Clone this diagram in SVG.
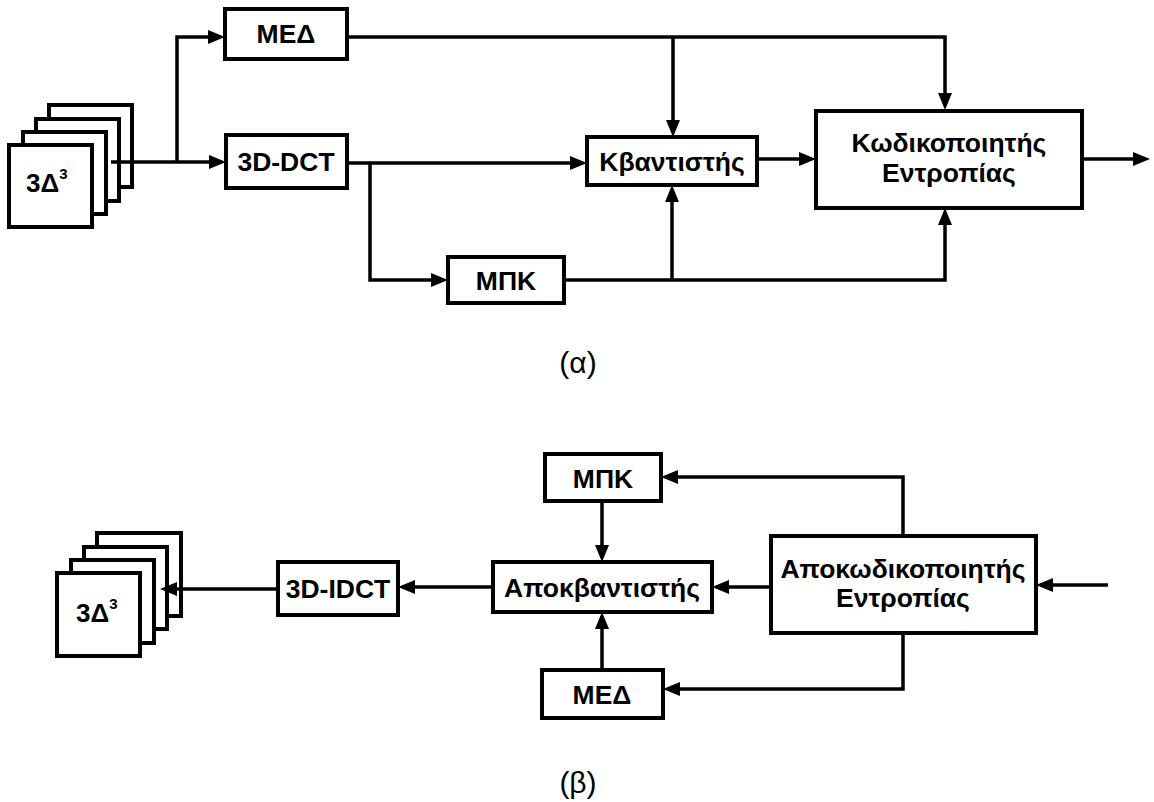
<svg xmlns="http://www.w3.org/2000/svg" width="1154" height="802" viewBox="0 0 1154 802">
  <style>
    .box { fill: #fff; stroke: #000; stroke-width: 4; }
    .frame { fill: #fff; stroke: #000; stroke-width: 4; }
    .arrow { fill: none; stroke: #000; stroke-width: 3.5; marker-end: url(#head); }
    .lbl { font-family: "Liberation Sans", Arial, sans-serif; font-weight: bold; font-size: 26.5px; text-anchor: middle; fill: #000; }
    .cap { font-family: "Liberation Sans", Arial, sans-serif; font-size: 30px; text-anchor: middle; fill: #000; }
    .vol { font-family: "Liberation Sans", Arial, sans-serif; font-weight: bold; font-size: 26px; fill: #000; }
  </style>
  <defs>
    <marker id="head" markerUnits="userSpaceOnUse" viewBox="0 0 17 14" refX="13" refY="7" markerWidth="17" markerHeight="14" orient="auto">
      <path d="M0,0 L17,7 L0,14 z" fill="#000"/>
    </marker>
  </defs>

  <rect width="1154" height="802" fill="#fff"/>

  <!-- (a) encoder -->
  <g id="volume-in">
    <rect class="frame" x="49" y="105" width="83" height="82"/>
    <rect class="frame" x="36" y="119" width="83" height="82"/>
    <rect class="frame" x="23" y="132" width="83" height="82"/>
    <rect class="frame" x="9" y="145" width="83" height="82"/>
    <text class="vol" x="26" y="192">3Δ<tspan font-size="15" dy="-13">3</tspan></text>
  </g>
  <g id="med-enc">
    <rect class="box" x="225" y="9" width="122" height="50"/>
    <text class="lbl" x="286" y="43">ΜΕΔ</text>
  </g>
  <g id="dct">
    <rect class="box" x="226" y="135" width="121" height="53"/>
    <text class="lbl" x="286" y="171">3D-DCT</text>
  </g>
  <g id="mpk-enc">
    <rect class="box" x="448" y="257" width="116" height="46"/>
    <text class="lbl" x="506" y="290">ΜΠΚ</text>
  </g>
  <g id="quantizer">
    <rect class="box" x="587" y="137" width="170" height="48"/>
    <text class="lbl" x="672" y="171">Κβαντιστής</text>
  </g>
  <g id="entropy-enc">
    <rect class="box" x="816" y="111" width="266" height="97"/>
    <text class="lbl" x="949" y="152">Κωδικοποιητής</text>
    <text class="lbl" x="949" y="182">Εντροπίας</text>
  </g>
  <text class="cap" x="578" y="373">(α)</text>

  <!-- (b) decoder -->
  <g id="volume-out">
    <rect class="frame" x="97" y="533" width="84" height="83"/>
    <rect class="frame" x="84" y="547" width="83" height="82"/>
    <rect class="frame" x="71" y="560" width="83" height="83"/>
    <rect class="frame" x="57" y="573" width="83" height="83"/>
    <text class="vol" x="76" y="622">3Δ<tspan font-size="15" dy="-13">3</tspan></text>
  </g>
  <g id="idct">
    <rect class="box" x="278" y="562" width="120" height="53"/>
    <text class="lbl" x="338" y="598">3D-IDCT</text>
  </g>
  <g id="dequantizer">
    <rect class="box" x="493" y="562" width="219" height="50"/>
    <text class="lbl" x="602" y="597">Αποκβαντιστής</text>
  </g>
  <g id="mpk-dec">
    <rect class="box" x="545" y="454" width="116" height="47"/>
    <text class="lbl" x="603" y="488">ΜΠΚ</text>
  </g>
  <g id="med-dec">
    <rect class="box" x="542" y="670" width="121" height="48"/>
    <text class="lbl" x="602" y="704">ΜΕΔ</text>
  </g>
  <g id="entropy-dec">
    <rect class="box" x="771" y="536" width="265" height="97"/>
    <text class="lbl" x="903" y="578">Αποκωδικοποιητής</text>
    <text class="lbl" x="903" y="607">Εντροπίας</text>
  </g>
  <text class="cap" x="578" y="793">(β)</text>

  <g id="connectors">
    <!-- encoder -->
    <path class="arrow" d="M111,162 H222"/>
    <path class="arrow" d="M177,162 V37 H221"/>
    <path class="arrow" d="M347,37 H945 V106"/>
    <path class="arrow" d="M673,37 V133"/>
    <path class="arrow" d="M347,163 H583"/>
    <path class="arrow" d="M370,163 V280 H444"/>
    <path class="arrow" d="M564,280 H945 V212"/>
    <path class="arrow" d="M672,280 V189"/>
    <path class="arrow" d="M757,159 H812"/>
    <path class="arrow" d="M1082,159 H1146"/>
    <!-- decoder -->
    <path class="arrow" d="M1108,585 H1040"/>
    <path class="arrow" d="M771,587 H716"/>
    <path class="arrow" d="M903,536 V477 H665"/>
    <path class="arrow" d="M903,633 V689 H667"/>
    <path class="arrow" d="M602,501 V558"/>
    <path class="arrow" d="M602,670 V616"/>
    <path class="arrow" d="M493,587 H402"/>
    <path class="arrow" d="M278,589 H164"/>
  </g>
</svg>
